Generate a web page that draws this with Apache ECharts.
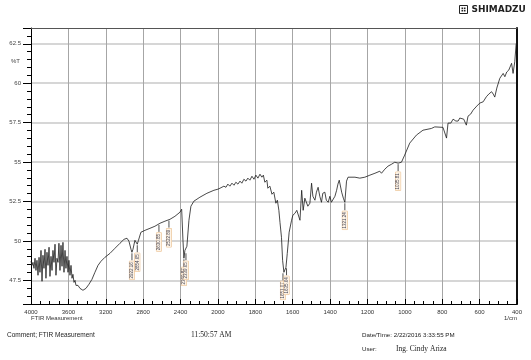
<!DOCTYPE html>
<html>
<head>
<meta charset="utf-8">
<script src="https://cdn.jsdelivr.net/npm/echarts@6/dist/echarts.min.js"></script>
<style>
  html, body { margin: 0; padding: 0; background: #fff; }
  #chart { width: 531px; height: 360px; }
</style>
</head>
<body>
<div id="chart"></div>
<script>
// x axis is split: 4000-2000 at 400 per division, 2000-400 at 200 per division
const xTickLabels = [4000, 3600, 3200, 2800, 2400, 2000, 1800, 1600, 1400, 1200, 1000, 800, 600, 400]

// spectrum (1/cm, %T)
const wavenumbers = [
  4000, 3989, 3979, 3968, 3957, 3947, 3936, 3925, 3914, 3904,
  3893, 3882, 3872, 3861, 3850, 3840, 3829, 3818, 3807, 3797,
  3786, 3775, 3765, 3754, 3743, 3733, 3722, 3711, 3701, 3690,
  3679, 3668, 3658, 3647, 3636, 3626, 3615, 3604, 3594, 3583,
  3572, 3561, 3551, 3540, 3529, 3519, 3497, 3476, 3444, 3412,
  3380, 3348, 3316, 3283, 3251, 3209, 3155, 3102, 3048, 3005,
  2973, 2952, 2930, 2920, 2909, 2888, 2877, 2863, 2850, 2824,
  2781, 2727, 2674, 2620, 2567, 2513, 2460, 2406, 2388, 2374,
  2364, 2353, 2342, 2332, 2310, 2289, 2257, 2193, 2118, 2043,
  2000, 1989, 1979, 1968, 1957, 1947, 1936, 1925, 1914, 1904,
  1893, 1882, 1872, 1861, 1850, 1840, 1829, 1818, 1807, 1797,
  1786, 1775, 1765, 1757, 1749, 1738, 1733, 1722, 1711, 1701,
  1690, 1682, 1674, 1668, 1660, 1654, 1647, 1636, 1629, 1619,
  1606, 1599, 1588, 1578, 1561, 1552, 1544, 1535, 1526, 1519,
  1508, 1499, 1492, 1481, 1473, 1464, 1455, 1446, 1439, 1428,
  1420, 1410, 1401, 1393, 1383, 1374, 1365, 1358, 1351, 1338,
  1329, 1321, 1312, 1304, 1294, 1267, 1241, 1214, 1187, 1160,
  1134, 1125, 1107, 1090, 1070, 1054, 1036, 1018, 1001, 974,
  938, 903, 858, 840, 796, 786, 777, 769, 754, 742,
  727, 715, 706, 697, 685, 671, 662, 648, 635, 615,
  599, 581, 564, 551, 536, 527, 519, 508, 492, 474,
  465, 455, 444, 429, 421, 412, 405, 400
]
const transmittance = [
  48.71, 48.45, 48.64, 48.26, 48.90, 48.13, 48.77, 47.82, 48.96, 48.01,
  49.40, 47.44, 49.09, 48.26, 49.47, 47.63, 49.28, 48.45, 49.60, 47.75,
  49.02, 48.13, 49.40, 48.64, 49.79, 47.82, 48.90, 48.64, 49.85, 48.13,
  49.72, 48.39, 49.91, 48.01, 49.40, 48.26, 49.02, 48.01, 48.77, 47.82,
  48.45, 47.63, 47.88, 47.37, 47.50, 47.18, 47.18, 46.99, 46.87, 46.99,
  47.25, 47.56, 48.01, 48.45, 48.71, 48.96, 49.21, 49.53, 49.85, 50.10,
  50.17, 49.98, 49.47, 49.28, 49.47, 50.04, 50.10, 49.79, 50.04, 50.55,
  50.67, 50.80, 50.93, 51.12, 51.25, 51.37, 51.56, 51.82, 52.01, 50.04,
  48.90, 49.40, 49.28, 49.66, 51.31, 52.20, 52.52, 52.77, 53.02, 53.21,
  53.28, 53.34, 53.40, 53.47, 53.40, 53.60, 53.47, 53.66, 53.53, 53.72,
  53.60, 53.79, 53.66, 53.91, 53.79, 53.98, 53.85, 54.10, 53.91, 54.17,
  53.98, 54.23, 54.04, 54.17, 53.72, 53.85, 53.34, 53.47, 52.96, 53.09,
  52.39, 52.58, 51.94, 51.18, 50.23, 48.77, 48.01, 48.33, 49.21, 50.55,
  51.31, 51.63, 51.75, 51.94, 51.31, 53.21, 51.94, 52.71, 52.77, 52.20,
  52.39, 53.66, 52.83, 52.58, 53.09, 53.40, 52.83, 52.45, 53.02, 53.09,
  52.58, 52.45, 52.83, 52.45, 52.39, 52.83, 53.21, 53.60, 53.85, 53.09,
  52.71, 52.45, 53.79, 54.04, 54.10, 54.04, 53.98, 54.04, 54.17, 54.29,
  54.42, 54.29, 54.55, 54.74, 54.87, 54.99, 54.93, 54.99, 55.44, 56.20,
  56.71, 57.02, 57.13, 57.23, 57.20, 57.15, 56.52, 57.47, 57.47, 57.72,
  57.60, 57.60, 57.79, 57.85, 57.72, 57.34, 57.91, 58.04, 58.29, 58.55,
  58.74, 58.82, 59.14, 59.31, 59.46, 59.31, 59.12, 59.69, 60.31, 60.62,
  60.41, 60.71, 60.83, 61.26, 60.62, 61.36, 62.42, 62.74
]

// picked peaks
const peakWavenumbers = [2920, 2863, 2631, 2524, 2364, 2342, 1652, 1633, 1321, 1036]
const peakTransmittance = [49.28, 49.79, 51.08, 51.35, 48.90, 49.28, 48.01, 48.33, 52.45, 54.93]
const peakLabels = ['2922.16', '2854.65', '2630.85', '2522.89', '2360.87', '2339.65', '1651.07', '1635.64', '1321.24', '1035.81']

// wavenumber -> axis position (0..13 divisions)
function toU(w) {
  return w >= 2000 ? (4000 - w) / 400 : 5 + (2000 - w) / 200
}

const chart = echarts.init(document.getElementById('chart'))

const spectrum = wavenumbers.map((w, i) => [toU(w), transmittance[i]])
const peaks = peakWavenumbers.map((w, i) => [toU(w), peakTransmittance[i]])

const yMin = 46
const yMax = 63.5
const font = 'Liberation Sans'

const option = {
  animation: false,
  grid: { left: 31, right: 14, top: 28, bottom: 56 },
  xAxis: [
    {
      type: 'value',
      position: 'bottom',
      min: 0,
      max: 13,
      interval: 1,
      axisLine: { lineStyle: { color: '#000', width: 1 } },
      axisTick: { inside: true, length: 5, lineStyle: { color: '#000' } },
      minorTick: { show: true, splitNumber: 4, length: 3, lineStyle: { color: '#000' } },
      axisLabel: {
        formatter: v => String(xTickLabels[Math.round(v)]),
        fontSize: 6,
        color: '#333',
        margin: 5,
        fontFamily: font
      },
      splitLine: { show: true, lineStyle: { color: '#a6a6a6', width: 1 } }
    },
    {
      type: 'value',
      position: 'top',
      min: 0,
      max: 13,
      axisLine: { lineStyle: { color: '#555', width: 1 } },
      axisTick: { show: false },
      axisLabel: { show: false },
      splitLine: { show: false }
    }
  ],
  yAxis: [
    {
      type: 'value',
      position: 'left',
      min: yMin,
      max: yMax,
      minInterval: 2.5,
      maxInterval: 2.5,
      splitNumber: 7,
      axisLine: { show: true, lineStyle: { color: '#000', width: 1 } },
      axisTick: { length: 8, lineStyle: { color: '#000' } },
      axisLabel: {
        formatter: v => (Math.abs(v / 2.5 - Math.round(v / 2.5)) < 1e-6 ? String(v) : ''),
        fontSize: 6,
        color: '#444',
        margin: 10,
        fontFamily: font
      },
      splitLine: { show: true, showMinLine: false, showMaxLine: false, lineStyle: { color: '#c9c9c9', width: 1.5 } }
    },
    {
      // minor ticks every 0.5 %T
      type: 'value',
      position: 'left',
      min: yMin,
      max: yMax,
      minInterval: 0.5,
      maxInterval: 0.5,
      splitNumber: 35,
      axisLine: { show: false },
      axisTick: { length: 4, lineStyle: { color: '#000' } },
      axisLabel: { show: false },
      splitLine: { show: false }
    },
    {
      type: 'value',
      position: 'right',
      min: yMin,
      max: yMax,
      axisLine: { show: true, lineStyle: { color: '#111', width: 2 } },
      axisTick: { show: false },
      axisLabel: { show: false },
      splitLine: { show: false }
    }
  ],
  series: [
    {
      type: 'line',
      data: spectrum,
      showSymbol: false,
      lineStyle: { color: '#1a1a1a', width: 0.8 },
      z: 3
    },
    {
      type: 'custom',
      data: peaks,
      clip: false,
      z: 4,
      renderItem: function (params, api) {
        const p = api.coord([api.value(0), api.value(1)])
        const y1 = p[1] + 1
        const y2 = y1 + 7
        return {
          type: 'group',
          children: [
            {
              type: 'line',
              shape: { x1: p[0], y1: y1, x2: p[0], y2: y2 },
              style: { stroke: '#222', lineWidth: 0.8 }
            },
            {
              type: 'text',
              x: p[0],
              y: y2 + 1,
              rotation: Math.PI / 2,
              style: {
                text: peakLabels[params.dataIndex],
                fontSize: 4.5,
                fontFamily: font,
                fill: '#445',
                align: 'right',
                verticalAlign: 'middle',
                backgroundColor: '#fdf3e6',
                borderColor: '#e8b882',
                borderWidth: 0.5,
                padding: [0, 1]
              }
            }
          ]
        }
      }
    }
  ],
  graphic: [
    { type: 'text', left: 11, top: 58, style: { text: '%T', fontSize: 6, fill: '#444', fontFamily: font } },
    { type: 'text', left: 31, top: 315, style: { text: 'FTIR Measurement', fontSize: 6, fill: '#333', fontFamily: font } },
    { type: 'text', left: 504, top: 315, style: { text: '1/cm', fontSize: 6, fill: '#333', fontFamily: font } },
    { type: 'text', left: 7, top: 332, style: { text: 'Comment; FTIR Measurement', fontSize: 6.5, fill: '#222', fontFamily: font } },
    { type: 'text', left: 191, top: 331, style: { text: '11:50:57 AM', fontSize: 7.5, fill: '#222', fontFamily: 'Liberation Serif' } },
    { type: 'text', left: 362, top: 332, style: { text: 'Date/Time: 2/22/2016 3:33:55 PM', fontSize: 6.2, fill: '#222', fontFamily: font } },
    { type: 'text', left: 362, top: 346, style: { text: 'User:', fontSize: 6.2, fill: '#222', fontFamily: font } },
    { type: 'text', left: 396, top: 345, style: { text: 'Ing. Cindy Ariza', fontSize: 7.5, fill: '#222', fontFamily: 'Liberation Serif' } },
    {
      type: 'group',
      left: 458,
      top: 4,
      children: [
        { type: 'rect', shape: { x: 0, y: 0, width: 8, height: 8 }, style: { fill: '#fff', stroke: '#222', lineWidth: 1 } },
        { type: 'rect', shape: { x: 2, y: 2, width: 4, height: 4 }, style: { fill: '#222' } },
        { type: 'line', shape: { x1: 4, y1: 1, x2: 4, y2: 7 }, style: { stroke: '#fff', lineWidth: 0.8 } },
        { type: 'line', shape: { x1: 1, y1: 4, x2: 7, y2: 4 }, style: { stroke: '#fff', lineWidth: 0.8 } },
        { type: 'text', x: 12, y: 0, scaleX: 1.12, style: { text: 'SHIMADZU', fontSize: 8, fontWeight: 'bold', fill: '#222', fontFamily: 'DejaVu Sans' } }
      ]
    }
  ]
}

chart.setOption(option)
</script>
</body>
</html>
